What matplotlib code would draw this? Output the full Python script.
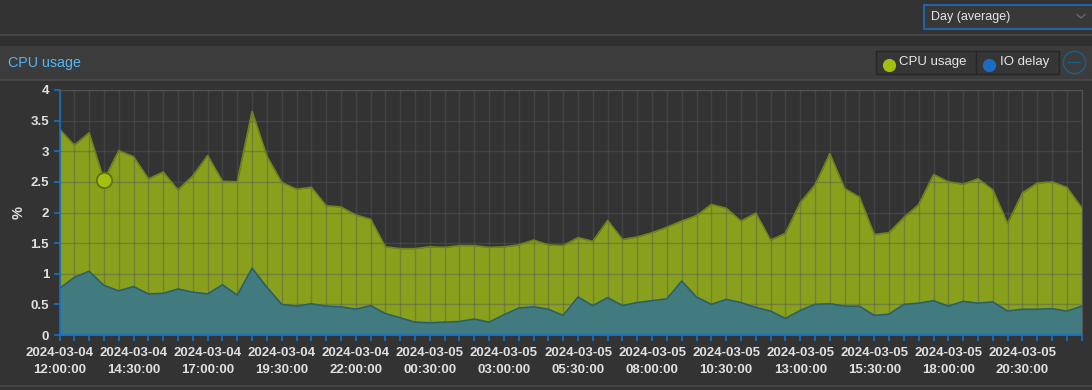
import matplotlib
matplotlib.use("Agg")
import matplotlib.pyplot as plt
import matplotlib.dates as mdates
from matplotlib.patches import Rectangle
import numpy as np
import pandas as pd

plt.rcParams['font.family'] = ['Liberation Sans', 'DejaVu Sans']

# 70 samples, 30 min apart
times = pd.date_range('2024-03-04 12:00', periods=70, freq='30min')

cpu = [3.36, 3.10, 3.30, 2.53, 3.01, 2.91, 2.55, 2.66, 2.37, 2.60,
       2.93, 2.51, 2.50, 3.65, 2.92, 2.49, 2.38, 2.41, 2.11, 2.09,
       1.96, 1.89, 1.44, 1.41, 1.41, 1.44, 1.43, 1.46, 1.46, 1.43,
       1.44, 1.47, 1.55, 1.47, 1.46, 1.59, 1.53, 1.87, 1.56, 1.60,
       1.67, 1.76, 1.86, 1.95, 2.13, 2.07, 1.86, 1.99, 1.55, 1.66,
       2.16, 2.45, 2.96, 2.39, 2.25, 1.64, 1.67, 1.92, 2.13, 2.62,
       2.50, 2.46, 2.55, 2.37, 1.82, 2.32, 2.48, 2.50, 2.41, 2.08]

io_delay = [0.76, 0.94, 1.04, 0.81, 0.72, 0.79, 0.67, 0.68, 0.75, 0.70,
            0.67, 0.82, 0.65, 1.09, 0.78, 0.50, 0.47, 0.51, 0.47, 0.46,
            0.42, 0.48, 0.35, 0.28, 0.21, 0.20, 0.21, 0.22, 0.26, 0.21,
            0.33, 0.44, 0.46, 0.42, 0.32, 0.62, 0.48, 0.61, 0.48, 0.53,
            0.56, 0.59, 0.88, 0.62, 0.50, 0.58, 0.53, 0.45, 0.39, 0.27,
            0.40, 0.50, 0.51, 0.47, 0.47, 0.32, 0.34, 0.50, 0.52, 0.56,
            0.47, 0.55, 0.52, 0.54, 0.39, 0.42, 0.42, 0.43, 0.39, 0.47]

highlight = 3  # hovered point

W, H = 1092, 390
BG = '#333333'
fig = plt.figure(figsize=(W / 100, H / 100), dpi=100, facecolor=BG)


def fx(px):
    return px / W


def fy(py):
    return 1 - py / H


# --- page chrome ---
fig.add_artist(Rectangle((0, fy(46)), 1, fy(35) - fy(46), transform=fig.transFigure,
                         facecolor='#303030', edgecolor='none'))
fig.add_artist(Rectangle((0, fy(79.5)), 1, fy(46) - fy(79.5), transform=fig.transFigure,
                         facecolor='#3c3c3c', edgecolor='none'))
for yy in [35, 79.5]:
    fig.add_artist(plt.Line2D([0, 1], [fy(yy), fy(yy)], transform=fig.transFigure,
                              color='#4a4a4a', lw=1.2))
fig.add_artist(plt.Line2D([0, 1], [fy(386), fy(386)], transform=fig.transFigure,
                          color='#484848', lw=1.2))

# dropdown
fig.add_artist(Rectangle((fx(924), fy(29)), fx(1100) - fx(924), fy(5) - fy(29),
                         transform=fig.transFigure, facecolor='#383838',
                         edgecolor='#1c6fc2', lw=1.2))
fig.text(fx(931), fy(17), 'Day (average)', color='#e6e6e6', fontsize=9,
         va='center', ha='left')
fig.add_artist(plt.Line2D([fx(1077), fx(1081), fx(1085)], [fy(14.5), fy(18), fy(14.5)],
                          transform=fig.transFigure, color='#6a6a6a', lw=0.9))

# panel title
fig.text(fx(8), fy(62.5), 'CPU usage', color='#55b4f3', fontsize=10.3,
         va='center', ha='left')

# legend
fig.add_artist(Rectangle((fx(876), fy(74)), fx(1059) - fx(876), fy(50.5) - fy(74),
                         transform=fig.transFigure, facecolor='#363636',
                         edgecolor='#262626', lw=1))
fig.add_artist(plt.Line2D([fx(976), fx(976)], [fy(74), fy(50.5)],
                          transform=fig.transFigure, color='#262626', lw=1))
fig.add_artist(plt.Line2D([fx(888.5)], [fy(64.5)], transform=fig.transFigure,
                          marker='o', ms=8.5, color='#a4bf0f', mec='#a4bf0f'))
fig.add_artist(plt.Line2D([fx(988.5)], [fy(64.5)], transform=fig.transFigure,
                          marker='o', ms=8.5, color='#1d6cc4', mec='#1d6cc4'))
fig.text(fx(899), fy(62.5), 'CPU usage', color='#e6e6e6', fontsize=9.5, va='center')
fig.text(fx(1000), fy(62.5), 'IO delay', color='#e6e6e6', fontsize=9.5, va='center')
fig.add_artist(plt.Line2D([fx(1074)], [fy(62)], transform=fig.transFigure,
                          marker='o', ms=16, mfc='none', mec='#1a5f8c', mew=1.0))
fig.add_artist(plt.Line2D([fx(1068), fx(1080)], [fy(62), fy(62)],
                          transform=fig.transFigure, color='#1a5f8c', lw=1.0))

# --- chart ---
left, right, top, bottom = 59.5, 1081.7, 90, 335
ax = fig.add_axes([fx(left), fy(bottom), fx(right) - fx(left), fy(top) - fy(bottom)])
ax.set_facecolor(BG)

ax.fill_between(times, cpu, 0, color='#88a01c', lw=0, zorder=2)
ax.plot(times, cpu, color='#6f8418', lw=1.2, zorder=3)
ax.fill_between(times, io_delay, 0, color='#417b80', lw=0, zorder=4)
ax.plot(times, io_delay, color='#2a5f6e', lw=1.2, zorder=5)
ax.plot(times[highlight], cpu[highlight], 'o', ms=11, mfc='#a4bf0f',
        mec='#5f7010', mew=1.3, zorder=6)

ax.set_xlim(times[0], times[-1])
ax.set_ylim(0, 4)
ax.set_yticks(np.arange(0, 4.01, 0.5))
ax.set_yticklabels(['0', '0.5', '1', '1.5', '2', '2.5', '3', '3.5', '4'])

ax.xaxis.set_major_locator(mdates.MinuteLocator(byminute=[0, 30], interval=1))


def fmt(x, pos):
    d = mdates.num2date(x).replace(tzinfo=None)
    k = int(round((d - times[0].to_pydatetime()).total_seconds() / 1800))
    if k % 5 == 0:
        return d.strftime('%Y-%m-%d\n%H:%M:%S')
    return ''


ax.xaxis.set_major_formatter(plt.FuncFormatter(fmt))

ax.grid(True, color='#585858', lw=1, zorder=1)
ax.set_axisbelow(False)
for ln in ax.get_xgridlines() + ax.get_ygridlines():
    ln.set_zorder(4.5)
    ln.set_alpha(0.45)

for s in ['top', 'right']:
    ax.spines[s].set_color('#555555')
for s in ['left', 'bottom']:
    ax.spines[s].set_color('#1770c4')
    ax.spines[s].set_linewidth(1.2)
for s in ax.spines.values():
    s.set_zorder(7)

ax.tick_params(axis='both', colors='#1770c4', length=4, width=1.2,
               labelcolor='#e0e0e0', labelsize=9.5)
ax.tick_params(axis='x', pad=5)
for lab in ax.get_xticklabels() + ax.get_yticklabels():
    lab.set_fontweight('bold')
    lab.set_linespacing(1.45)

ax.set_ylabel('%', color='#e0e0e0', fontsize=10.5, fontweight='bold')
ax.yaxis.set_label_coords(-(left - 26) / (right - left), 0.5)

fig.savefig('out.png', dpi=100, facecolor=BG)
